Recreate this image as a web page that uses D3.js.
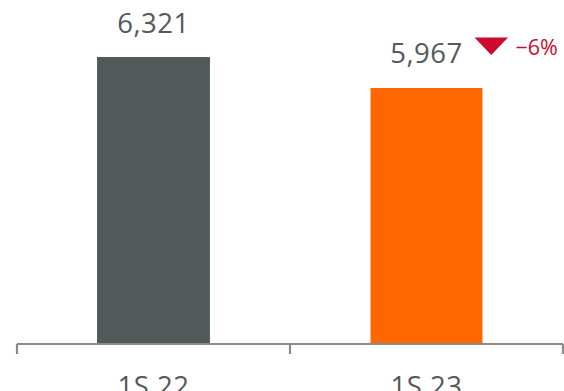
<!DOCTYPE html>
<html><head><meta charset="utf-8">
<script src="https://cdn.jsdelivr.net/npm/d3@7"></script>
<style>html,body{margin:0;padding:0;background:#fff;}svg{display:block;}</style>
</head><body>
<svg id="chart" width="564" height="391"></svg>
<script>
const categories = ["1S 22", "1S 23"];
const values = [6321, 5967];
const colors = ["#535959", "#ff6600"];
const changeLabel = "\u22126%";

const svg = d3.select("#chart");
const x = d3.scaleBand().domain(categories).range([17, 563]).paddingInner(0.59).paddingOuter(0.295);
const y = d3.scaleLinear().domain([3000, 6321]).range([344, 57.5]);
const fmt = d3.format(",");

svg.selectAll("rect.bar").data(values).enter().append("rect")
  .attr("class", "bar")
  .attr("x", (d, i) => x(categories[i]))
  .attr("y", d => y(d))
  .attr("width", x.bandwidth())
  .attr("height", d => y.range()[0] - y(d))
  .attr("fill", (d, i) => colors[i])
  .attr("stroke", (d, i) => i === 0 ? "#3e5060" : "none")
  .attr("stroke-width", 0.8);

svg.selectAll("text.val").data(values).enter().append("text")
  .attr("class", "val")
  .attr("x", (d, i) => x(categories[i]) + x.bandwidth() / 2)
  .attr("y", d => y(d) - 25)
  .attr("text-anchor", "middle")
  .attr("font-family", "Open Sans")
  .attr("font-size", 27.5)
  .attr("letter-spacing", 0.5)
  .attr("fill", "#555a5a")
  .text(d => fmt(d));

// change indicator
const bx = x(categories[1]) + x.bandwidth() / 2;
const by = y(values[1]);
svg.append("path")
  .attr("d", d3.line()([[bx + 48, by - 50.5], [bx + 81.5, by - 50.5], [bx + 64.75, by - 33]]) + "Z")
  .attr("fill", "#cc0a2f");
svg.append("text")
  .attr("x", bx + 89)
  .attr("y", by - 33)
  .attr("font-family", "Open Sans")
  .attr("font-size", 21.5)
  .attr("fill", "#cc0a2f")
  .text(changeLabel);

// axis
const g = svg.append("g").attr("transform", "translate(0,344)");
g.append("line").attr("x1", 17).attr("x2", 563).attr("y1", 0).attr("y2", 0)
  .attr("stroke", "#8a8a8a").attr("stroke-width", 2.2);
const bounds = [x.range()[0], (x(categories[0]) + x.bandwidth() + x(categories[1])) / 2, x.range()[1]];
g.selectAll("line.tk").data(bounds).enter().append("line")
  .attr("class", "tk")
  .attr("x1", d => d).attr("x2", d => d).attr("y1", 0).attr("y2", 10)
  .attr("stroke", "#8a8a8a").attr("stroke-width", 2.2);
g.selectAll("text.cat").data(categories).enter().append("text")
  .attr("class", "cat")
  .attr("x", d => x(d) + x.bandwidth() / 2)
  .attr("y", 52)
  .attr("text-anchor", "middle")
  .attr("font-family", "Open Sans")
  .attr("font-size", 27.5)
  .attr("letter-spacing", 0.5)
  .attr("fill", "#555a5a")
  .text(d => d);
</script>
</body></html>
